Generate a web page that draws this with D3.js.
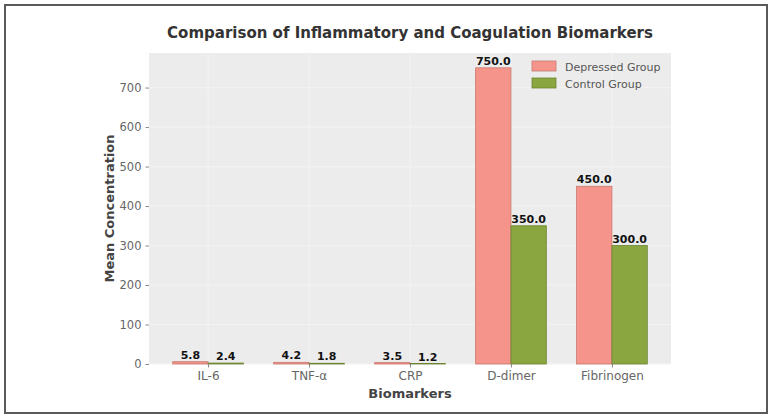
<!DOCTYPE html>
<html>
<head>
<meta charset="utf-8">
<script src="https://cdn.jsdelivr.net/npm/d3@7"></script>
<style>
  body { margin: 0; background: #fff; }
  text { font-family: "DejaVu Sans", sans-serif; }
</style>
</head>
<body>
<script>
//chart data
var biomarkers = ["IL-6", "TNF-\u03b1", "CRP", "D-dimer", "Fibrinogen"];
var depressed = [5.8, 4.2, 3.5, 750.0, 450.0];
var control = [2.4, 1.8, 1.2, 350.0, 300.0];
var seriesNames = ["Depressed Group", "Control Group"];
var yTicks = [0, 100, 200, 300, 400, 500, 600, 700];

(function(){

var width = 771, height = 418;
var left = 149, right = 671, top = 53, bottom = 364;
var colors = ["#f4948a", "#8aa640"];
var edges = ["#c9786f", "#6c8430"];

var svg = d3.select("body").append("svg")
    .attr("width", width)
    .attr("height", height);

//outer frame
svg.append("rect")
    .attr("x", 5).attr("y", 5)
    .attr("width", 762).attr("height", 408)
    .attr("fill", "#fff")
    .attr("stroke", "#5a5a5a")
    .attr("stroke-width", 2);

//scales: bars sit at index -/+ half a bar width
var barW = 0.35;
var x = d3.scaleLinear()
    .domain([-barW - 0.05 * (4 + 2 * barW), 4 + barW + 0.05 * (4 + 2 * barW)])
    .range([left, right]);
var y = d3.scaleLinear()
    .domain([0, d3.max(depressed) * 1.05])
    .range([bottom, top]);

//plot background
svg.append("rect")
    .attr("x", left).attr("y", top)
    .attr("width", right - left).attr("height", bottom - top)
    .attr("fill", "#ececec");

//grid lines
svg.selectAll(".hgrid")
    .data(yTicks)
    .enter().append("line")
    .attr("x1", left).attr("x2", right)
    .attr("y1", function(d){ return y(d); })
    .attr("y2", function(d){ return y(d); })
    .attr("stroke", "#f5f1f1").attr("stroke-width", 1.2);
svg.selectAll(".vgrid")
    .data(biomarkers)
    .enter().append("line")
    .attr("x1", function(d, i){ return x(i); })
    .attr("x2", function(d, i){ return x(i); })
    .attr("y1", top).attr("y2", bottom)
    .attr("stroke", "#f3f1f1").attr("stroke-width", 1.2);

//bars
var series = [depressed, control];
series.forEach(function(vals, s){
    var off = s === 0 ? -barW : 0;
    svg.selectAll(".bar" + s)
        .data(vals)
        .enter().append("rect")
        .attr("x", function(d, i){ return x(i + off); })
        .attr("y", function(d){ return y(d); })
        .attr("width", x(barW) - x(0))
        .attr("height", function(d){ return bottom - y(d); })
        .attr("fill", colors[s])
        .attr("stroke", edges[s])
        .attr("stroke-width", 0.8);

    //value labels
    svg.selectAll(".lab" + s)
        .data(vals)
        .enter().append("text")
        .attr("x", function(d, i){ return x(i + off + barW / 2); })
        .attr("y", function(d){ return y(d) - 3; })
        .attr("text-anchor", "middle")
        .attr("font-size", 11)
        .attr("font-weight", "bold")
        .attr("fill", "#111")
        .text(function(d){ return d.toFixed(1); });
});

//axes
var yAxis = svg.append("g")
    .attr("transform", "translate(" + left + ",0)")
    .call(d3.axisLeft(y).tickValues(yTicks).tickSize(3.5).tickPadding(4));
yAxis.select(".domain").remove();
yAxis.selectAll("line").attr("stroke", "#888");
yAxis.selectAll("text").attr("font-size", 11.5).attr("fill", "#666")
    .style("font-family", "DejaVu Sans");

var xAxis = svg.append("g")
    .attr("transform", "translate(0," + bottom + ")")
    .call(d3.axisBottom(x).tickValues(d3.range(biomarkers.length))
        .tickFormat(function(d){ return biomarkers[d]; })
        .tickSize(3.5).tickPadding(4));
xAxis.select(".domain").remove();
xAxis.selectAll("line").attr("stroke", "#888");
xAxis.selectAll("text").attr("font-size", 12).attr("fill", "#666")
    .style("font-family", "DejaVu Sans");

//titles
svg.append("text")
    .attr("x", (left + right) / 2).attr("y", 38)
    .attr("text-anchor", "middle")
    .attr("font-size", 15).attr("font-weight", "bold")
    .attr("fill", "#333")
    .text("Comparison of Inflammatory and Coagulation Biomarkers");

svg.append("text")
    .attr("x", (left + right) / 2).attr("y", 398)
    .attr("text-anchor", "middle")
    .attr("font-size", 13).attr("font-weight", "bold")
    .attr("fill", "#444")
    .text("Biomarkers");

svg.append("text")
    .attr("transform", "translate(114," + (top + bottom) / 2 + ") rotate(-90)")
    .attr("text-anchor", "middle")
    .attr("font-size", 13).attr("font-weight", "bold")
    .attr("fill", "#444")
    .text("Mean Concentration");

//legend
var legend = svg.append("g").attr("transform", "translate(532,61)");
seriesNames.forEach(function(name, i){
    legend.append("rect")
        .attr("x", 0).attr("y", i * 17)
        .attr("width", 24).attr("height", 10)
        .attr("fill", colors[i])
        .attr("stroke", edges[i]).attr("stroke-width", 0.8);
    legend.append("text")
        .attr("x", 33).attr("y", i * 17 + 9.5)
        .attr("font-size", 11)
        .attr("fill", "#555")
        .text(name);
});

})();
</script>
</body>
</html>
